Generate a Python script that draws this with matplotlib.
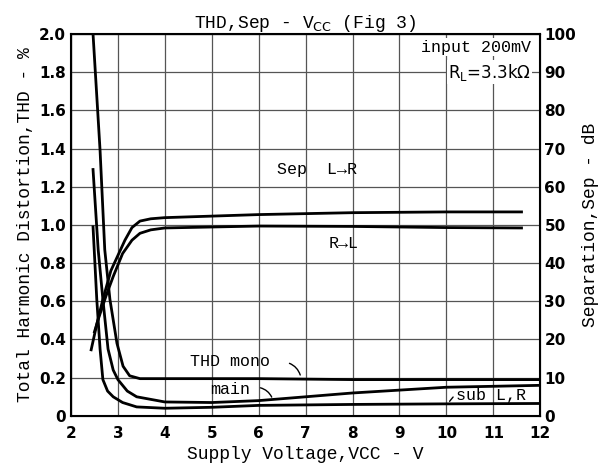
import matplotlib
matplotlib.use('Agg')
import matplotlib.pyplot as plt
import numpy as np

# THD curves (left axis, %)
vcc_mono = [2.47, 2.62, 2.72, 2.83, 2.98, 3.11, 3.25, 3.47, 4.0, 6.0, 8.0, 10.0, 12.0]
thd_mono = [2.0, 1.39, 0.87, 0.61, 0.38, 0.26, 0.21, 0.195, 0.195, 0.195, 0.19, 0.19, 0.19]

vcc_main = [2.47, 2.58, 2.68, 2.79, 2.9, 3.0, 3.2, 3.4, 4.0, 5.0, 6.0, 7.0, 8.0, 9.0, 10.0, 11.0, 12.0]
thd_main = [1.29, 0.87, 0.61, 0.35, 0.24, 0.19, 0.13, 0.1, 0.073, 0.07, 0.08, 0.1, 0.12, 0.135, 0.15, 0.155, 0.16]

vcc_sub = [2.47, 2.55, 2.62, 2.68, 2.78, 2.9, 3.1, 3.4, 4.0, 5.0, 6.0, 8.0, 10.0, 12.0]
thd_sub = [0.99, 0.61, 0.35, 0.19, 0.13, 0.1, 0.07, 0.047, 0.04, 0.045, 0.055, 0.06, 0.063, 0.065]

# Separation curves (right axis, dB)
vcc_lr = [2.43, 2.55, 2.68, 2.85, 3.0, 3.15, 3.3, 3.47, 3.7, 4.0, 6.0, 8.0, 10.0, 11.6]
sep_lr = [17.3, 24, 30.5, 38, 42, 46, 49.3, 51, 51.6, 51.9, 52.7, 53.2, 53.4, 53.4]

vcc_rl = [2.5, 2.6, 2.75, 2.9, 3.1, 3.3, 3.47, 3.7, 4.0, 6.0, 8.0, 10.0, 11.6]
sep_rl = [22, 26, 31.5, 36.5, 42.5, 46, 47.8, 48.7, 49.2, 49.7, 49.6, 49.3, 49.2]

mono = 'Liberation Mono'

fig = plt.figure(figsize=(6.04, 4.71), dpi=100)
ax = fig.add_axes([0.1175, 0.117, 0.777, 0.811])
ax.set_xlim(2, 12)
ax.set_ylim(0, 2.0)
ax.set_xticks(range(2, 13))
ax.set_yticks(np.arange(0, 2.01, 0.2))
ax.set_yticklabels(['0', '0.2', '0.4', '0.6', '0.8', '1.0', '1.2', '1.4', '1.6', '1.8', '2.0'])
ax.grid(True, color='#555555', linewidth=0.9)
ax.tick_params(length=0, labelsize=11)
ax.tick_params(axis='x', pad=7)
for lab in ax.get_xticklabels() + ax.get_yticklabels():
    lab.set_fontweight('bold')
for s in ax.spines.values():
    s.set_linewidth(1.5)

ax.plot(vcc_mono, thd_mono, color='black', lw=2)
ax.plot(vcc_main, thd_main, color='black', lw=2)
ax.plot(vcc_sub, thd_sub, color='black', lw=2)

ax2 = ax.twinx()
ax2.set_ylim(0, 100)
ax2.set_yticks(range(0, 101, 10))
ax2.tick_params(length=0, labelsize=11, pad=3)
for lab in ax2.get_yticklabels():
    lab.set_fontweight('bold')
ax2.plot(vcc_lr, sep_lr, color='black', lw=2)
ax2.plot(vcc_rl, sep_rl, color='black', lw=2)

ax.set_title('THD,Sep - V$_{\\rm CC}$ (Fig 3)', family=mono, fontsize=13, pad=4)
ax.set_xlabel('Supply Voltage,VCC - V', family=mono, fontsize=13)
ax.set_ylabel('Total Harmonic Distortion,THD - %', family=mono, fontsize=13)
ax2.set_ylabel('Separation,Sep - dB', family=mono, fontsize=13)

ax.text(11.8, 1.93, 'input 200mV', family=mono, fontsize=12, ha='right', va='center',
        bbox=dict(facecolor='white', edgecolor='none', pad=1))
ax.text(11.8, 1.80, 'R$_{\\rm L}$=3.3k$\\Omega$', fontsize=12, ha='right', va='center',
        bbox=dict(facecolor='white', edgecolor='none', pad=1))
ax.text(6.4, 1.29, 'Sep  L\u2192R', family=mono, fontsize=12, va='center')
ax.text(7.5, 0.905, 'R\u2192L', family=mono, fontsize=12, va='center')
ax.text(4.54, 0.283, 'THD mono', family=mono, fontsize=12, va='center')
ax.text(4.96, 0.136, 'main', family=mono, fontsize=12, va='center')
ax.text(10.2, 0.105, 'sub L,R', family=mono, fontsize=12, va='center')
ax.annotate('', xy=(6.9, 0.2), xytext=(6.6, 0.28),
            arrowprops=dict(arrowstyle='-', color='black', lw=1, connectionstyle='arc3,rad=-0.3'))
ax.annotate('', xy=(6.3, 0.085), xytext=(5.98, 0.15),
            arrowprops=dict(arrowstyle='-', color='black', lw=1, connectionstyle='arc3,rad=-0.3'))
ax.annotate('', xy=(10.03, 0.065), xytext=(10.18, 0.11),
            arrowprops=dict(arrowstyle='-', color='black', lw=1))

fig.savefig('out.png', dpi=100)
